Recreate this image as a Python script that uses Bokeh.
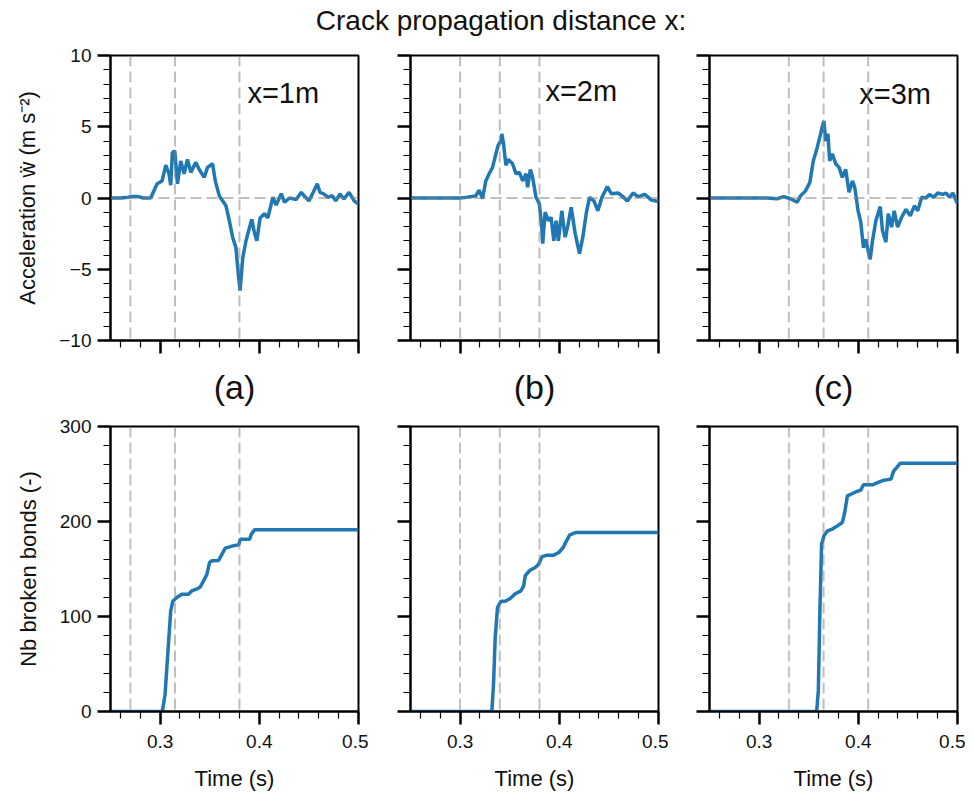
from bokeh.plotting import figure
from bokeh.layouts import column, row
from bokeh.models import Span, Label, SingleIntervalTicker, CustomJSTickFormatter, Range1d
from bokeh.embed import file_html
from bokeh.resources import INLINE

# ---------------- data ----------------
title_text = "Crack propagation distance x:"
panel_labels = ["(a)", "(b)", "(c)"]
distance_labels = ["x=1m", "x=2m", "x=3m"]
acc_ylabel = "Acceleration ẅ (m s⁻²)"
bonds_ylabel = "Nb broken bonds (-)"
time_xlabel = "Time (s)"

t_acc_a = [0.250, 0.260, 0.268, 0.272, 0.278, 0.283, 0.2905, 0.297, 0.302, 0.3057, 0.309, 0.3107,
           0.3124, 0.3148, 0.3175, 0.3208, 0.3242, 0.3276, 0.331, 0.336, 0.3394, 0.3445, 0.3478,
           0.3529, 0.3556, 0.3597, 0.363, 0.3664, 0.3698, 0.3731, 0.3765, 0.3782, 0.3806, 0.3833,
           0.3866, 0.39, 0.3924, 0.395, 0.3975, 0.4008, 0.4052, 0.4086, 0.4137, 0.417, 0.4221,
           0.4254, 0.4305, 0.4372, 0.4423, 0.4466, 0.450, 0.4544, 0.4584, 0.4611, 0.4652, 0.4692,
           0.4736, 0.477, 0.4814, 0.4854, 0.4905, 0.4956, 0.500]
acc_a = [0.0, 0.0, 0.05, 0.1, 0.1, 0.0, 0.0, 1.0, 1.2, 2.3, 1.7, 0.9,
         3.2, 3.3, 1.0, 2.6, 1.7, 2.7, 1.8, 2.5, 2.0, 1.45, 2.15,
         2.4, 1.2, 0.15, -0.2, -0.55, -1.6, -2.75, -3.5, -4.9, -6.5, -4.2,
         -3.0, -2.1, -1.5, -2.4, -3.0, -1.4, -1.1, -1.4, 0.05, -0.5, 0.3,
         -0.3, 0.0, -0.1, 0.4, 0.05, -0.2, 0.4, 1.0, 0.4, 0.28, 0.05,
         0.16, -0.2, 0.28, -0.07, 0.4, -0.2, -0.42]

t_acc_b = [0.250, 0.300, 0.3074, 0.3158, 0.3192, 0.3226, 0.3259, 0.3293, 0.3327, 0.3361, 0.3384,
           0.3411, 0.3421, 0.3438, 0.3462, 0.3485, 0.3529, 0.3563, 0.3597, 0.3631, 0.3664, 0.3681,
           0.3708, 0.3731, 0.3765, 0.3799, 0.3823, 0.3833, 0.3857, 0.3891, 0.3917, 0.3945, 0.3968,
           0.3991, 0.4025, 0.4059, 0.4086, 0.412, 0.416, 0.4204, 0.4237, 0.4271, 0.4305, 0.4349,
           0.4389, 0.443, 0.4484, 0.4524, 0.4592, 0.4632, 0.4686, 0.4744, 0.4794, 0.4862, 0.4929,
           0.500]
acc_b = [0.0, 0.0, 0.05, 0.15, 0.55, -0.05, 1.2, 1.7, 2.15, 3.1, 3.7,
         4.0, 4.5, 3.8, 2.3, 2.7, 2.4, 1.7, 1.8, 1.2, 1.7, 0.75,
         2.0, 1.45, 0.05, -0.4, -2.05, -3.2, -1.0, -1.6, -1.35, -3.0, -1.6,
         -3.0, -0.9, -2.75, -1.95, -0.65, -2.5, -3.9, -2.75, -1.1, 0.05, -0.2,
         -0.9, 0.05, 0.8, 0.3, 0.35, 0.15, -0.2, 0.35, 0.1, 0.25, -0.15,
         -0.25]

t_acc_c = [0.250, 0.308, 0.3182, 0.3249, 0.3316, 0.3384, 0.3418, 0.3468, 0.3512, 0.3546, 0.3586,
           0.362, 0.3637, 0.3654, 0.3671, 0.3694, 0.3711, 0.3738, 0.3772, 0.3806, 0.3839, 0.3873,
           0.3907, 0.3941, 0.3964, 0.3998, 0.4025, 0.4052, 0.4076, 0.4099, 0.412, 0.4143, 0.4177,
           0.4221, 0.4244, 0.4278, 0.4302, 0.4335, 0.4362, 0.4396, 0.4437, 0.448, 0.4524, 0.4565,
           0.4599, 0.4639, 0.4683, 0.4717, 0.476, 0.4801, 0.4852, 0.4885, 0.4919, 0.4953, 0.500]
acc_c = [0.0, 0.0, -0.05, 0.1, -0.05, -0.3, 0.15, 0.5, 1.1, 2.6, 3.55,
         4.5, 5.0, 5.4, 4.0, 4.5, 2.6, 3.1, 2.4, 2.15, 1.45, 2.0,
         0.4, 1.2, 0.75, -0.9, -1.7, -3.5, -2.9, -3.7, -4.3, -3.0, -1.6,
         -0.6, -2.3, -3.1, -1.1, -2.05, -0.9, -2.05, -1.35, -0.8, -1.25, -0.55,
         -0.9, 0.05, 0.0, 0.25, 0.05, 0.35, 0.25, 0.35, 0.05, 0.35, -0.4]

t_bonds_a = [0.250, 0.3016, 0.3026, 0.305, 0.3084, 0.3107, 0.3128, 0.3168, 0.3219, 0.3286, 0.332,
             0.337, 0.3404, 0.3438, 0.3472, 0.3499, 0.3522, 0.359, 0.3624, 0.3657, 0.3691, 0.3735,
             0.3792, 0.3809, 0.3903, 0.392, 0.3951, 0.500]
bonds_a = [0, 0, 2, 18, 71, 106, 116, 120, 123.5, 123.5, 127,
           129, 131, 137.5, 144.5, 157, 158.6, 159, 165.6, 172, 173, 174.4,
           175.4, 181.4, 181.4, 186.7, 191.2, 191.2]

t_bonds_b = [0.250, 0.332, 0.3337, 0.3354, 0.3377, 0.3411, 0.3455, 0.3505, 0.3556, 0.3613, 0.364,
             0.3657, 0.3681, 0.3708, 0.3758, 0.3792, 0.3826, 0.3877, 0.3944, 0.3995, 0.4039, 0.4072,
             0.4106, 0.4163, 0.500]
bonds_b = [0, 0, 29, 78, 109.5, 116, 116, 119, 124, 127, 132,
           143, 146, 149, 151.6, 155, 163, 164.6, 164.6, 167.4, 172.6, 179.6,
           186, 188.4, 188.4]

t_bonds_c = [0.250, 0.358, 0.3597, 0.3613, 0.363, 0.3654, 0.3688, 0.3738, 0.3789, 0.3839, 0.3863,
             0.389, 0.3941, 0.3985, 0.4025, 0.4052, 0.4143, 0.4194, 0.4261, 0.4329, 0.4356, 0.4389,
             0.4423, 0.500]
bonds_c = [0, 0, 21.7, 106, 176, 185, 190, 192, 195.4, 199, 209.5,
           227, 229.5, 231.6, 233, 238.6, 238.6, 241, 243.5, 244.6, 253, 257,
           261.4, 261.4]

event_times = [[0.27, 0.315, 0.38], [0.30, 0.34, 0.38], [0.33, 0.365, 0.41]]

# ---------------- styling ----------------
FONT = "Liberation Sans"
BLUE = "#1f77b4"
TXT = "#111111"
FRAME_W, FRAME_H = 248, 285
LEFT = [110, 42, 41]
RIGHT = [10, 10, 8]
HEADER_H = 40

acc_t = [t_acc_a, t_acc_b, t_acc_c]
acc_v = [acc_a, acc_b, acc_c]
bond_t = [t_bonds_a, t_bonds_b, t_bonds_c]
bond_v = [bonds_a, bonds_b, bonds_c]
tag_pos = [(0.388, 7.40), (0.386, 7.54), (0.401, 7.31)]


def style_axis(ax):
    ax.axis_line_color = "black"
    ax.axis_line_width = 2
    ax.major_tick_line_color = "black"
    ax.major_tick_line_width = 2.5
    ax.major_tick_in = 0
    ax.major_tick_out = 13
    ax.minor_tick_line_color = "black"
    ax.minor_tick_line_width = 1.2
    ax.minor_tick_in = 0
    ax.minor_tick_out = 7
    ax.major_label_text_font = FONT
    ax.major_label_text_font_size = "19px"
    ax.major_label_text_color = TXT
    ax.major_label_standoff = 10
    ax.axis_label_text_font = FONT
    ax.axis_label_text_font_style = "normal"
    ax.axis_label_text_color = TXT


def make_panel(i, top):
    if top:
        yr = Range1d(-10, 10)
        mb_top, mb_bot = 55 - HEADER_H, 76
    else:
        yr = Range1d(0, 300)
        mb_top, mb_bot = 10, 86
    p = figure(x_range=Range1d(0.25, 0.5), y_range=yr,
               frame_width=FRAME_W, frame_height=FRAME_H,
               min_border_left=LEFT[i], min_border_right=RIGHT[i],
               min_border_top=mb_top, min_border_bottom=mb_bot,
               toolbar_location=None, output_backend="svg")
    p.xgrid.visible = False
    p.ygrid.visible = False
    p.outline_line_color = "black"
    p.outline_line_width = 2
    p.outline_line_alpha = 1.0

    p.xaxis.ticker = SingleIntervalTicker(interval=0.1, num_minor_ticks=5)
    if top:
        p.yaxis.ticker = SingleIntervalTicker(interval=5, num_minor_ticks=5)
    else:
        p.yaxis.ticker = SingleIntervalTicker(interval=100, num_minor_ticks=5)
    style_axis(p.xaxis[0])
    style_axis(p.yaxis[0])
    p.yaxis.major_label_standoff = 6

    if top:
        p.xaxis.formatter = CustomJSTickFormatter(code="return '';")
        p.xaxis.major_label_standoff = 0
        p.xaxis.axis_label = panel_labels[i]
        p.xaxis.axis_label_text_font_size = "34px"
        p.xaxis.axis_label_standoff = 14
    else:
        p.xaxis.formatter = CustomJSTickFormatter(code="return tick.toFixed(1);")
        p.xaxis.axis_label = time_xlabel
        p.xaxis.axis_label_text_font_size = "22px"
        p.xaxis.axis_label_standoff = 15

    if i == 0:
        p.yaxis.formatter = CustomJSTickFormatter(
            code="return tick < 0 ? '\u2212' + Math.abs(tick).toFixed(0) : tick.toFixed(0);")
        p.yaxis.axis_label = acc_ylabel if top else bonds_ylabel
        p.yaxis.axis_label_text_font_size = "22px"
        p.yaxis.axis_label_standoff = 16
    else:
        p.yaxis.formatter = CustomJSTickFormatter(code="return '';")

    dash = dict(line_color="gray", line_alpha=0.5, line_width=2, line_dash="11 5")
    if top:
        p.line(acc_t[i], acc_v[i], line_color=BLUE, line_width=3.5)
        p.add_layout(Span(location=0, dimension="width", **dash))
        tx, ty = tag_pos[i]
        p.add_layout(Label(x=tx, y=ty, text=distance_labels[i], text_font=FONT,
                           text_font_size="29px", text_color=TXT,
                           text_align="left", text_baseline="alphabetic"))
    else:
        p.line(bond_t[i], bond_v[i], line_color=BLUE, line_width=3.5)
    for vx in event_times[i]:
        p.add_layout(Span(location=vx, dimension="height", **dash))
    return p


header = figure(width=965, height=HEADER_H, x_range=Range1d(0, 1), y_range=Range1d(0, 1),
                x_axis_location=None, y_axis_location=None, title=None,
                toolbar_location=None, output_backend="svg", min_border=0)
header.xgrid.visible = False
header.ygrid.visible = False
header.outline_line_color = None
header.add_layout(Label(x=500.5 / 965, y=1 - 20 / HEADER_H, text=title_text, text_font=FONT,
                        text_font_size="28px", text_color=TXT,
                        text_align="center", text_baseline="middle"))

top_row = row([make_panel(i, True) for i in range(3)], spacing=0)
bot_row = row([make_panel(i, False) for i in range(3)], spacing=0)
layout = column([header, top_row, bot_row], spacing=0)

open("out.html", "w", encoding="utf-8").write(file_html(layout, INLINE))
